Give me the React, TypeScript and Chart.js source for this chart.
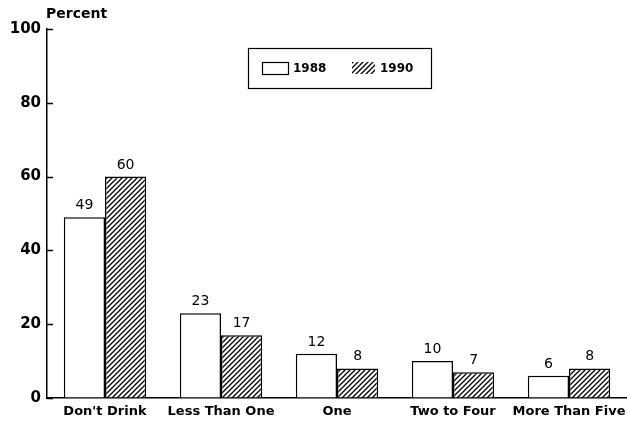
import React, { useEffect, useRef } from "react";
import { Chart, registerables } from "chart.js";

Chart.register(...registerables);

const categories = ["Don't Drink", "Less Than One", "One", "Two to Four", "More Than Five"];
const series1988 = [49, 23, 12, 10, 6];
const series1990 = [60, 17, 8, 7, 8];
const seriesNames = ["1988", "1990"];
const yTicks = [0, 20, 40, 60, 80, 100];
const yTitle = "Percent";

const FONT = "'DejaVu Sans', 'Liberation Sans', Arial, sans-serif";

function makeHatch(): CanvasPattern | string {
  const c = document.createElement("canvas");
  const s = 5;
  c.width = s;
  c.height = s;
  const ctx = c.getContext("2d");
  if (!ctx) return "#555";
  ctx.fillStyle = "#fff";
  ctx.fillRect(0, 0, s, s);
  ctx.strokeStyle = "#000";
  ctx.lineWidth = 1.3;
  ctx.beginPath();
  ctx.moveTo(0, s);
  ctx.lineTo(s, 0);
  ctx.moveTo(-1, 1);
  ctx.lineTo(1, -1);
  ctx.moveTo(s - 1, s + 1);
  ctx.lineTo(s + 1, s - 1);
  ctx.stroke();
  return ctx.createPattern(c, "repeat") || "#555";
}

export default function App() {
  const ref = useRef<HTMLCanvasElement>(null);
  useEffect(() => {
    document.body.style.margin = "0";
    const canvas = ref.current;
    if (!canvas) return;
    const hatch = makeHatch();

    const extras = {
      id: "extras",
      afterDatasetsDraw(chart: any) {
        const ctx = chart.ctx;
        ctx.save();
        // inward y ticks
        const ys = chart.scales.y;
        const area = chart.chartArea;
        ctx.strokeStyle = "#000";
        ctx.lineWidth = 1.5;
        ctx.beginPath();
        yTicks.forEach((v) => {
          const py = Math.round(ys.getPixelForValue(v)) + 0.5;
          ctx.moveTo(area.left, py);
          ctx.lineTo(area.left + 6, py);
        });
        ctx.stroke();
        // value labels
        ctx.fillStyle = "#000";
        ctx.font = `14px ${FONT}`;
        ctx.textAlign = "center";
        ctx.textBaseline = "alphabetic";
        chart.data.datasets.forEach((ds: any, di: number) => {
          const meta = chart.getDatasetMeta(di);
          meta.data.forEach((el: any, i: number) => {
            ctx.fillText(String(ds.data[i]), el.x, el.y - 8);
          });
        });
        // x labels
        const xs = chart.scales.x;
        ctx.font = `bold 13px ${FONT}`;
        ctx.textBaseline = "middle";
        categories.forEach((c, i) => {
          ctx.fillText(c, xs.getPixelForTick(i), 412);
        });
        // y title
        ctx.font = `bold 14px ${FONT}`;
        ctx.textAlign = "left";
        ctx.textBaseline = "middle";
        ctx.fillText(yTitle, 46, 14);
        // legend box
        const lx = 248, ly = 48, lw = 183, lh = 40;
        ctx.lineWidth = 1.2;
        ctx.strokeRect(lx + 0.5, ly + 0.5, lw, lh);
        const sw = 26, sh = 12;
        const sy = 62;
        ctx.fillStyle = "#fff";
        ctx.fillRect(262, sy, sw, sh);
        ctx.strokeRect(262.5, sy + 0.5, sw, sh);
        ctx.fillStyle = hatch as any;
        ctx.fillRect(352, sy, 23, sh);
        ctx.fillStyle = "#000";
        ctx.font = `bold 12px ${FONT}`;
        ctx.textBaseline = "middle";
        ctx.fillText(seriesNames[0], 293, sy + sh / 2 + 1);
        ctx.fillText(seriesNames[1], 380, sy + sh / 2 + 1);
        ctx.restore();
      },
    };

    const chart = new Chart(canvas, {
      type: "bar",
      data: {
        labels: categories,
        datasets: [
          {
            label: seriesNames[0],
            data: series1988,
            backgroundColor: "#fff",
            borderColor: "#000",
            borderWidth: 1.5,
            borderSkipped: "bottom",
          },
          {
            label: seriesNames[1],
            data: series1990,
            backgroundColor: hatch as any,
            borderColor: "#000",
            borderWidth: 1.5,
            borderSkipped: "bottom",
          },
        ],
      },
      options: {
        responsive: false,
        animation: false,
        layout: { padding: { top: 29, left: 0, right: 0, bottom: 0 } },
        plugins: {
          legend: { display: false },
          tooltip: { enabled: false },
        },
        datasets: {
          bar: { categoryPercentage: 0.71, barPercentage: 1 },
        },
        scales: {
          x: {
            grid: { display: false },
            border: { display: true, color: "#000", width: 1.5 },
            ticks: { display: false },
            afterFit: (s: any) => {
              s.height = 28;
            },
          },
          y: {
            min: 0,
            max: 100,
            afterBuildTicks: (s: any) => {
              s.ticks = yTicks.map((v) => ({ value: v }));
            },
            grid: {
              drawOnChartArea: false,
              drawTicks: false,
            },
            border: { display: true, color: "#000", width: 1.5 },
            ticks: {
              color: "#000",
              font: { family: FONT, size: 15, weight: "bold" },
              padding: 6,
            },
            afterFit: (s: any) => {
              s.width = 47;
            },
          },
        },
      },
      plugins: [extras],
    });
    return () => chart.destroy();
  }, []);
  return (
    <div style={{ width: 627, height: 426, background: "#fff" }}>
      <canvas ref={ref} width={627} height={426} style={{ display: "block" }} />
    </div>
  );
}
